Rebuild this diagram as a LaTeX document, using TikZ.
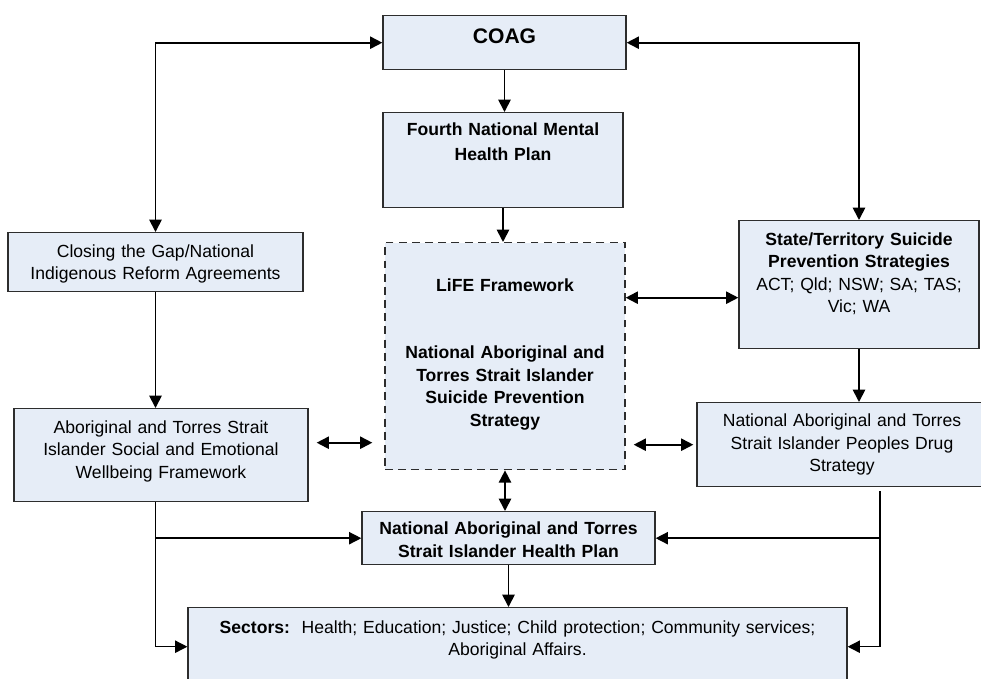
\documentclass[tikz,border=0pt]{standalone}
\usepackage{fontspec}
\setmainfont{Liberation Sans}
\usepackage{tikz}
\usetikzlibrary{arrows.meta}
\definecolor{boxfill}{RGB}{230,237,247}
\definecolor{edge}{RGB}{45,45,45}
\tikzstyle{box}=[draw=edge, fill=boxfill, line width=.8pt, anchor=north, inner sep=0pt, align=center, font=\fontsize{10}{12.8}\selectfont]

\begin{document}
\begin{tikzpicture}[
    x=.02cm, y=-.02cm,
    >={Triangle[length=7pt,width=7pt]},
    line width=1pt]

      \clip (0,0) rectangle (981,679);

      % centre column
      \node[box, text width=4.86cm, text height=.56cm, text depth=.52cm,
            font=\fontsize{12}{14}\selectfont\bfseries] (coag) at (504.5,15) {COAG};
      \node[box, text width=4.8cm, text height=.46cm, text depth=1.44cm,
            font=\fontsize{10}{12.8}\selectfont\bfseries] (fourth) at (503,112)
            {Fourth National Mental\\[1.4pt] Health Plan};
      \node[box, dash pattern=on 4.5pt off 3pt, text width=4.8cm, text height=.97cm, text depth=3.57cm,
            font=\fontsize{10}{12.8}\selectfont\bfseries] (life) at (505,242)
            {LiFE Framework\\[2\baselineskip] National Aboriginal and\\ Torres Strait Islander\\
             Suicide Prevention\\ Strategy};
      \node[box, text width=5.86cm, text height=.46cm, text depth=.6cm,
            font=\fontsize{10}{12.8}\selectfont\bfseries] (hplan) at (508.5,511)
            {National Aboriginal and Torres\\ Strait Islander Health Plan};
      \node[box, text width=13.18cm, text height=.51cm, text depth=1.05cm] (sectors) at (517.5,607)
            {\textbf{Sectors:}\ \ Health; Education; Justice; Child protection; Community services;\\
             Aboriginal Affairs.};

      % left column
      \node[box, text width=5.9cm, text height=.49cm, text depth=.69cm] (closing) at (155.5,232)
            {Closing the Gap/National\\ Indigenous Reform Agreements};
      \node[box, text width=5.88cm, text height=.49cm, text depth=1.37cm] (sewb) at (161,408)
            {Aboriginal and Torres Strait\\ Islander Social and Emotional\\ Wellbeing Framework};

      % right column
      \node[box, text width=4.8cm, text height=.49cm, text depth=2.07cm] (state) at (859,220)
            {\textbf{State/Territory Suicide}\\ \textbf{Prevention Strategies}\\
             ACT; Qld; NSW; SA; TAS;\\ Vic; WA};
      \node[box, text width=5.8cm, text height=.48cm, text depth=1.2cm] (drug) at (842,402)
            {National Aboriginal and Torres\\ Strait Islander Peoples Drug\\ Strategy};

      \coordinate (ls) at ([yshift=-.26cm]state.west);
      \coordinate (sl) at ([yshift=.25cm]sewb.east);
      \coordinate (dr) at ([xshift=.76cm, yshift=-.08cm]drug.south);

      \draw[->] (coag.south) -- (coag.south |- fourth.north);
      \draw[->] (fourth.south) -- (fourth.south |- life.north);
      \draw[<->] (closing.north) |- (coag.west);
      \draw[<->] (coag.east) -| (state.north);
      \draw[->] (closing.south) -- (closing.south |- sewb.north);
      \draw[->] (state.south) -- (state.south |- drug.north);

      \draw[<->] (ls -| life.east) -- (ls);
      \draw[<->, shorten <=.16cm, shorten >=.24cm] (sl) -- (sl -| life.west);
      \draw[<->, shorten <=.16cm, shorten >=.06cm] (drug.west -| life.east) -- (drug.west);
      \draw[<->] (life.south) -- (life.south |- hplan.north);
      \draw[->] (hplan.south) -- (hplan.south |- sectors.north);

      % into health plan and sectors
      \draw[->, line width=.8pt] (closing.south |- sewb.south) |- (sectors.west);
      \draw[->, line width=.8pt] (closing.south |- hplan.west) -- (hplan.west);
      \draw[->, line width=.8pt] (dr) |- (sectors.east);
      \draw[->, line width=.8pt] (dr |- hplan.east) -- (hplan.east);

    \end{tikzpicture}
\end{document}
